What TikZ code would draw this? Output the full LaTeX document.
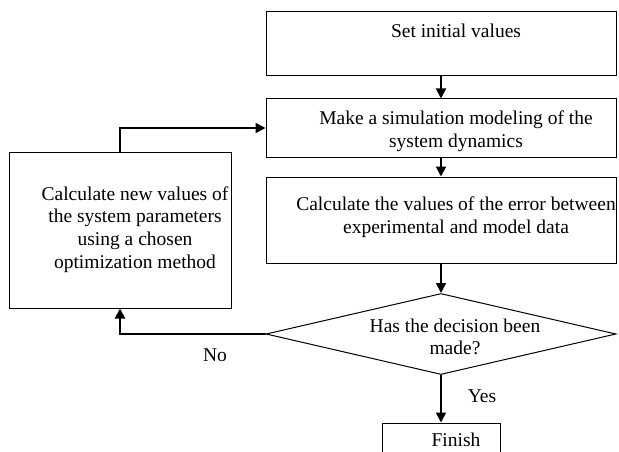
\documentclass[tikz,border=0pt]{standalone}
\usepackage{fontspec}
\setmainfont{Liberation Serif}
\usetikzlibrary{arrows.meta,shapes.geometric}

\tikzset{
  blk/.style={draw,line width=1pt,inner sep=0pt},
  txt/.style={align=center,inner sep=0pt,font=\fontsize{19.5}{22.7}\selectfont},
  flow/.style={line width=1.8pt,-{Triangle[length=10pt,width=10pt]}},
}

\begin{document}
\begin{tikzpicture}[x=1pt,y=-1pt]
  \clip (0,0) rectangle (619,452);

  % boxes
  \node[blk,minimum width=350pt,minimum height=64pt] (init) at (441,44) {};
  \node[blk,minimum width=350pt,minimum height=58pt] (model) at (441,128) {};
  \node[blk,minimum width=350pt,minimum height=86pt] (err) at (441,220) {};
  \node[blk,shape=diamond,minimum width=350pt,minimum height=81pt] (dec) at (441,334) {};
  \node[blk,minimum width=222pt,minimum height=156pt] (opt) at (120,230) {};
  \node[blk,minimum width=118pt,minimum height=57pt] (fin) at (441,451.5) {};

  % texts
  \node[txt] (tinit) at (456,30.5) {Set initial values};
  \node[txt] (tmodel) at (456,131) {Make a simulation modeling of the\\system dynamics};
  \node[txt] (terr) at (456,217) {Calculate the values of the error between\\experimental and model data};
  \node[txt] (tdec) at (455,337) {Has the decision been\\made?};
  \node[txt] (topt) at (135,229.5) {Calculate new values of\\the system parameters\\using a chosen\\optimization method};
  \node[txt] (tfin) at (456,440) {Finish};
  \node[txt] (no) at (215,355) {No};
  \node[txt] (yes) at (482,396) {Yes};

  % arrows
  \draw[flow] (init) -- (model);
  \draw[flow] (model) -- (err);
  \draw[flow] (err) -- (dec);
  \draw[flow] (dec) -- (fin);
  \draw[flow] (dec.west) -| (opt.south);
  \draw[flow] (opt.north) |- (model.west);

\end{tikzpicture}
\end{document}
